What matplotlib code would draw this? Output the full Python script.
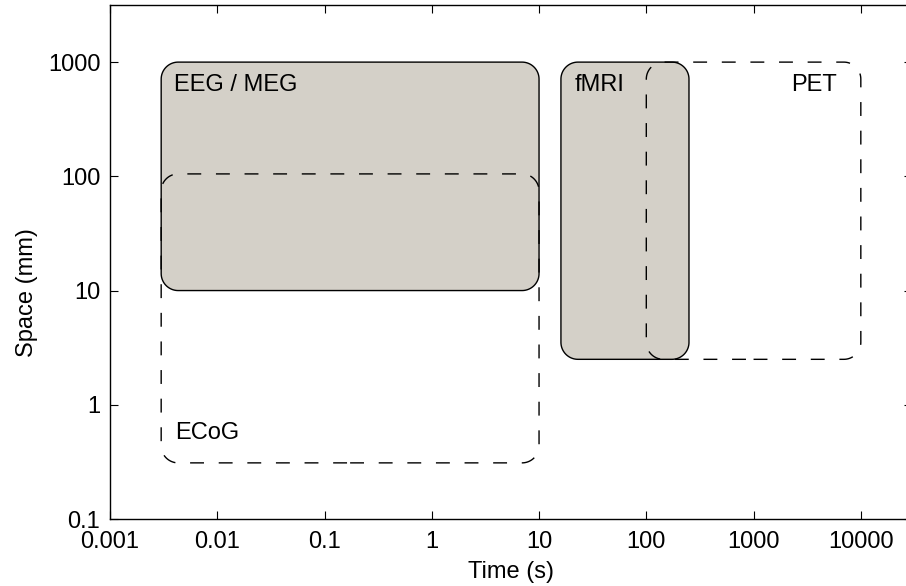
import numpy as np
import matplotlib
matplotlib.use("Agg")
import matplotlib.pyplot as plt
from matplotlib.patches import PathPatch
from matplotlib.path import Path
from matplotlib.ticker import FixedLocator, FixedFormatter, NullLocator

# Recording methods: temporal and spatial resolution ranges
methods = ["EEG / MEG", "ECoG", "fMRI", "PET"]
time_lo = [0.003, 0.003, 16, 100]
time_hi = [10, 10, 250, 10000]
space_lo = [10, 0.31, 2.5, 2.5]
space_hi = [1000, 105, 1000, 1000]
filled = [True, False, True, False]

x_ticks = [0.001, 0.01, 0.1, 1, 10, 100, 1000, 10000]
x_tick_labels = ["0.001", "0.01", "0.1", "1", "10", "100", "1000", "10000"]
y_ticks = [0.1, 1, 10, 100, 1000]
y_tick_labels = ["0.1", "1", "10", "100", "1000"]

FS = 17.0
plt.rcParams["font.family"] = ["Liberation Sans", "DejaVu Sans"]
plt.rcParams["font.size"] = FS
plt.rcParams["lines.scale_dashes"] = False

W, H = 906, 586
fig = plt.figure(figsize=(W / 100, H / 100), dpi=100)
ax_l, ax_r, ax_t, ax_b = 110, 912, 5, 519
ax = fig.add_axes([ax_l / W, (H - ax_b) / H, (ax_r - ax_l) / W, (ax_b - ax_t) / H])
ax.set_xscale("log")
ax.set_yscale("log")
ax.set_xlim(0.001, 30000)
ax.set_ylim(0.1, 10 ** 3.5)

ax.xaxis.set_major_locator(FixedLocator(x_ticks))
ax.xaxis.set_major_formatter(FixedFormatter(x_tick_labels))
ax.yaxis.set_major_locator(FixedLocator(y_ticks))
ax.yaxis.set_major_formatter(FixedFormatter(y_tick_labels))
ax.xaxis.set_minor_locator(NullLocator())
ax.yaxis.set_minor_locator(NullLocator())
ax.tick_params(which="major", direction="in", length=5.8, width=0.8,
               top=True, right=True, color="black", labelsize=FS)
ax.tick_params(axis="x", pad=9)
ax.tick_params(axis="y", pad=7)
for s in ax.spines.values():
    s.set_linewidth(1.0)

ax.set_xlabel("Time (s)", fontsize=FS)
ax.set_ylabel("Space (mm)", fontsize=FS)
ax.xaxis.set_label_coords(0.5, (ax_b - 561) / (ax_b - ax_t))
ax.yaxis.set_label_coords((38 - ax_l) / (ax_r - ax_l), (ax_b - 293) / (ax_b - ax_t))


def rounded_box(ax, x0, x1, y0, y1, r_px, n=24, **kw):
    """Rounded rectangle on log-log axes with circular corners in screen space."""
    lx0, lx1 = np.log10(x0), np.log10(x1)
    ly0, ly1 = np.log10(y0), np.log10(y1)
    xl = np.log10(ax.get_xlim())
    yl = np.log10(ax.get_ylim())
    rx = r_px / (ax.bbox.width / (xl[1] - xl[0]))
    ry = r_px / (ax.bbox.height / (yl[1] - yl[0]))
    corners = [
        (lx1 - rx, ly0 + ry, -90, 0),
        (lx1 - rx, ly1 - ry, 0, 90),
        (lx0 + rx, ly1 - ry, 90, 180),
        (lx0 + rx, ly0 + ry, 180, 270),
    ]
    pts = []
    for cx, cy, a0, a1 in corners:
        t = np.radians(np.linspace(a0, a1, n))
        pts.extend(zip(cx + rx * np.cos(t), cy + ry * np.sin(t)))
    pts = np.array(pts)
    # start at the middle of the bottom edge so dashes run evenly
    start = np.array([[(lx0 + lx1) / 2, ly0]])
    pts = np.vstack([start, pts, start])
    codes = [Path.MOVETO] + [Path.LINETO] * (len(pts) - 1)
    patch = PathPatch(Path(10 ** pts, codes), **kw)
    ax.add_patch(patch)
    return patch


r_px = 17
fill_color = "#d4d0c8"
label_offsets = {
    "EEG / MEG": ("left-top", 13, -29),
    "ECoG": ("left-bottom", 14, 24),
    "fMRI": ("left-top", 14, -29),
    "PET": ("right-top", -24, -29),
}

for name, t0, t1, s0, s1, f in zip(methods, time_lo, time_hi, space_lo, space_hi, filled):
    if f:
        rounded_box(ax, t0, t1, s0, s1, r_px, facecolor=fill_color,
                    edgecolor="black", linewidth=1.0, zorder=2)
    else:
        rounded_box(ax, t0, t1, s0, s1, r_px, facecolor="none",
                    edgecolor="black", linewidth=1.0,
                    linestyle=(0, (10.0, 10.6)), zorder=3)

for name, t0, t1, s0, s1 in zip(methods, time_lo, time_hi, space_lo, space_hi):
    anchor, dx, dy = label_offsets[name]
    horiz, vert = anchor.split("-")
    xx = t0 if horiz == "left" else t1
    yy = s1 if vert == "top" else s0
    ax.annotate(name, xy=(xx, yy), xytext=(dx * 0.72, dy * 0.72),
                textcoords="offset points", ha=horiz, va="baseline",
                fontsize=FS, zorder=4)

fig.savefig("out.png", dpi=100)
